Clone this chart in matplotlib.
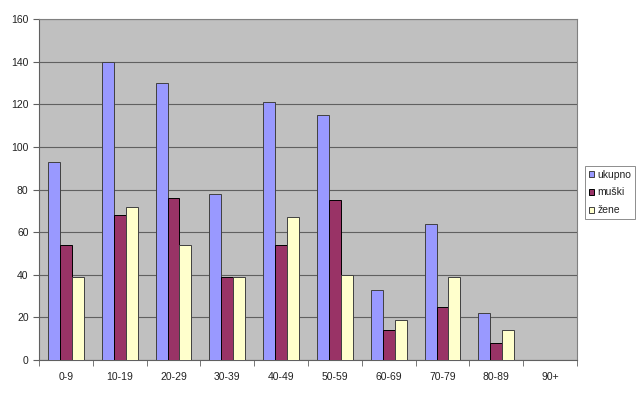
import numpy as np
import matplotlib.pyplot as plt

plt.rcParams['font.family'] = ['Liberation Sans', 'DejaVu Sans']

# data
groups = ['0-9', '10-19', '20-29', '30-39', '40-49', '50-59', '60-69', '70-79', '80-89', '90+']
ukupno = [93, 140, 130, 78, 121, 115, 33, 64, 22, 0]
muski = [54, 68, 76, 39, 54, 75, 14, 25, 8, 0]
zene = [39, 72, 54, 39, 67, 40, 19, 39, 14, 0]

fig = plt.figure(figsize=(6.4, 3.93), dpi=100)
ax = fig.add_axes([39 / 640, 1 - 360 / 393, 538 / 640, 341 / 393])
ax.set_facecolor('#C0C0C0')

x = np.arange(len(groups))
w = 1 / 4.5
ax.bar(x - w, ukupno, w, color='#9999FF', edgecolor='#404040', linewidth=0.7, label='ukupno', zorder=3)
ax.bar(x, muski, w, color='#993366', edgecolor='black', linewidth=0.7, label='muški', zorder=3)
ax.bar(x + w, zene, w, color='#FFFFCC', edgecolor='#404040', linewidth=0.7, label='žene', zorder=3)

ax.set_xlim(-0.5, len(groups) - 0.5)
ax.set_ylim(0, 160)
ax.set_yticks(range(0, 161, 20))
ax.yaxis.grid(True, color='#606060', linewidth=0.8, zorder=0)
ax.set_xticks(x)
ax.set_xticklabels(groups)
ax.set_xticks(np.arange(-0.5, len(groups)), minor=True)
ax.tick_params(axis='x', which='major', length=0, labelsize=7.5, pad=9, colors='#222222')
ax.tick_params(axis='x', which='minor', length=4, color='#606060', direction='out')
ax.tick_params(axis='y', length=4, labelsize=7.5, colors='#222222', direction='out')
ax.tick_params(axis='y', color='#606060')

for side in ['top', 'right']:
    ax.spines[side].set_color('#808080')
    ax.spines[side].set_linewidth(0.8)
for side in ['left', 'bottom']:
    ax.spines[side].set_color('#606060')
    ax.spines[side].set_linewidth(0.8)

leg = fig.legend(loc='upper left', bbox_to_anchor=(585 / 640, 1 - 166 / 393), fontsize=7.5,
                 frameon=True, fancybox=False, handlelength=0.5, handleheight=0.5,
                 handletextpad=0.35, borderpad=0.35, labelspacing=0.75, borderaxespad=0)
leg.get_frame().set_edgecolor('#707070')
leg.get_frame().set_linewidth(0.7)
for t in leg.get_texts():
    t.set_color('#222222')

fig.savefig('out.png', dpi=100)
